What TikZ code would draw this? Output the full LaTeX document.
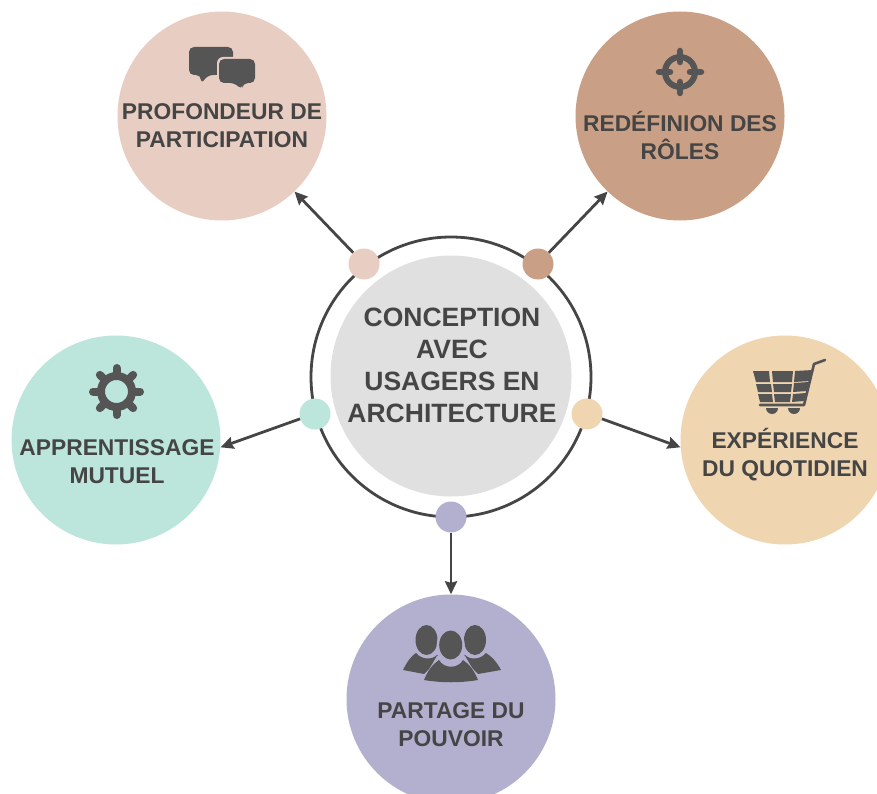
\documentclass[tikz,border=0pt]{standalone}
\usepackage{fontspec}
\setmainfont{Liberation Sans}
\usetikzlibrary{arrows.meta}
\definecolor{ink}{HTML}{454545}
\definecolor{icon}{HTML}{555555}
\definecolor{cpink}{HTML}{E8CDC2}
\definecolor{cbrown}{HTML}{C9A085}
\definecolor{csand}{HTML}{EFD5B0}
\definecolor{cmint}{HTML}{BCE5DC}
\definecolor{clav}{HTML}{B3B0CF}
\definecolor{cgrey}{HTML}{E0E0E0}
\tikzset{
  big/.style={circle,fill=#1,draw=none,minimum size=209pt,inner sep=0pt},
  dot/.style={circle,fill=#1,draw=none,minimum size=31pt,inner sep=0pt},
  lab/.style={font=\fontsize{22.8}{28}\selectfont\bfseries,text=ink,align=center,inner sep=0pt},
  mainlab/.style={font=\fontsize{26.5}{32}\selectfont\bfseries,text=ink,align=center,inner sep=0pt},
  conn/.style={draw=ink,line width=2.8pt,-{Stealth[length=13pt,width=12pt,inset=1.5pt]}},
  ic/.style={fill=icon,draw=none}
}
\begin{document}
\begin{tikzpicture}[x=1pt,y=-1pt]
\useasboundingbox (0,0) rectangle (877,794);
\clip (0,0) rectangle (877,794);
\node[big=cpink] (c1) at (222,116) {};
\node[big=cbrown] (c2) at (680,116) {};
\node[big=csand] (c3) at (785,440) {};
\node[big=cmint] (c4) at (116,440) {};
\node[big=clav] (c5) at (451,699) {};
\node[circle,draw=ink,line width=2.8pt,minimum size=280pt,inner sep=0pt] (ring) at (451,377) {};
\node[circle,fill=cgrey,minimum size=241pt,inner sep=0pt] (hub) at (451,376) {};
\node[dot=cpink] (d1) at (364,264) {};
\node[dot=cbrown] (d2) at (538,264) {};
\node[dot=csand] (d3) at (587,414) {};
\node[dot=cmint] (d4) at (315,414) {};
\node[dot=clav] (d5) at (451,517) {};
\draw[conn] (d1) -- (c1);
\draw[conn] (d2) -- (c2);
\draw[conn] (d3.-18) -- (c3.184);
\draw[conn] (d4.198) -- (c4.-4);
\draw[conn] (d5) -- (c5);
\node[mainlab] (tm) at (452,365) {CONCEPTION\\AVEC\\USAGERS EN\\ARCHITECTURE};
\node[lab] (t1) at (222,126) {PROFONDEUR DE\\PARTICIPATION};
\node[lab] (t2) at (680,135.5) {REDÉFINION DES\\RÔLES};
\node[lab] (t3) at (785,454.5) {EXPÉRIENCE\\DU QUOTIDIEN};
\node[lab] (t4) at (117,462) {APPRENTISSAGE\\MUTUEL};
\node[lab] (t5) at (451,724.5) {PARTAGE DU\\POUVOIR};
% chat icon
\fill[ic,rounded corners=5pt] (189,47) -- (233,47) -- (233,75) -- (208,75) -- (201,84) -- (201,75) -- (189,75) -- cycle;
\fill[cpink,rounded corners=6pt] (217,57) -- (257,57) -- (257,85) -- (217,85) -- cycle;
\fill[ic,rounded corners=5pt] (219,59) -- (255,59) -- (255,83) -- (243,83) -- (241.5,90) -- (235,83) -- (219,83) -- cycle;
% target icon
\draw[icon,line width=6pt] (680,72) circle (15);
\draw[icon,line width=6.5pt,line cap=round] (680,51) -- (680,62) (680,82) -- (680,93) (659,72) -- (670,72) (690,72) -- (701,72);
% cart icon
\fill[ic] (753,371) -- (769,371) -- (770,382) -- (756,382) -- cycle;
\fill[ic] (772,371) -- (793,371) -- (792,382) -- (773,382) -- cycle;
\fill[ic] (795,371) -- (813,370) -- (810,381) -- (794,382) -- cycle;
\fill[ic] (756,384) -- (771,384) -- (772,392) -- (758,392) -- cycle;
\fill[ic] (773,384) -- (792,384) -- (791,392) -- (774,392) -- cycle;
\fill[ic] (794,383) -- (809,382) -- (807,391) -- (793,392) -- cycle;
\fill[ic] (758,394) -- (772,394) -- (773,402) -- (760,402) -- cycle;
\fill[ic] (774,394) -- (791,394) -- (790,402) -- (775,402) -- cycle;
\fill[ic] (793,394) -- (806,393) -- (804,401) -- (792,402) -- cycle;
\draw[icon,line width=2.6pt,line cap=round,line join=round] (825,360) -- (814,364) -- (804,405) -- (760,405);
\fill[ic] (766,408) arc[start angle=180,end angle=360,radius=6pt] -- cycle;
\fill[ic] (788,408) arc[start angle=180,end angle=360,radius=6pt] -- cycle;
% gear icon
\draw[icon,line width=8pt] (116.5,391.5) circle (15.5);
\foreach \a in {0,45,...,315}
  \draw[icon,line width=8pt,line cap=round] (116.5,391.5) ++(\a:17pt) -- ++(\a:6.5pt);
% people icon
\fill[ic] (403,670) .. controls (407,662) and (411,656) .. (416,653) .. controls (422,660) and (432,660) .. (437,655) -- (440,658) -- (424,674) -- cycle;
\fill[ic] (426.5,640) ellipse (11 and 15);
\fill[ic] (475,640) ellipse (11 and 15);
\fill[ic] (501,670) .. controls (497,662) and (491,656) .. (486,653) .. controls (480,660) and (470,660) .. (465,655) -- (462,658) -- (478,674) -- cycle;
\fill[clav] (450.7,645) ellipse (14 and 17);
\fill[clav] (421,683) -- (437,656) -- (465,656) -- (481,683) -- cycle;
\fill[ic] (450.7,645) ellipse (11.5 and 14.5);
\fill[ic] (424,680) .. controls (428,670) and (433,664) .. (439,660) .. controls (444,669) and (458,669) .. (463,660) .. controls (469,664) and (474,670) .. (478,680) .. controls (460,683) and (442,683) .. (424,680) -- cycle;
\end{tikzpicture}
\end{document}
